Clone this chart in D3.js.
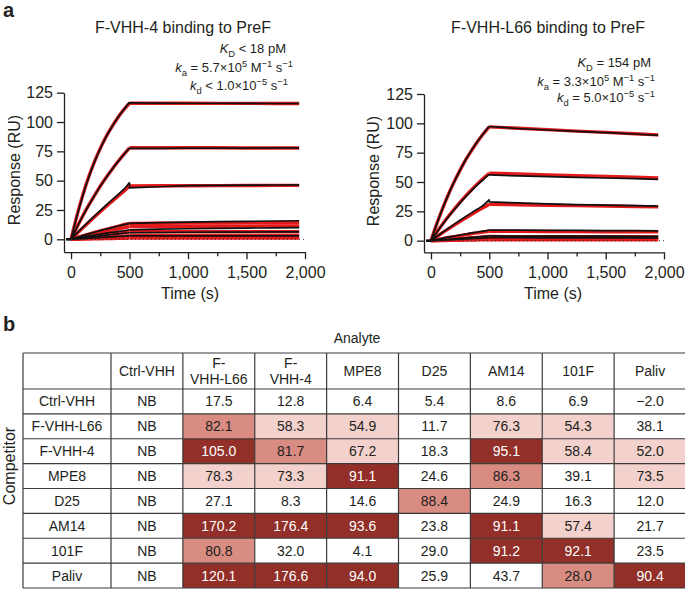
<!DOCTYPE html>
<html><head><meta charset="utf-8">
<script src="https://cdn.jsdelivr.net/npm/d3@7"></script>
<style>
body{margin:0;background:#fff}
svg{display:block}
text{font-family:"Liberation Sans",Arial,Helvetica,sans-serif;fill:#231f20}
</style>
</head><body><svg id="c" width="685" height="590"></svg>
<script>
// ---------------- DATA ----------------
const assocT = [0,50,100,150,200,250,300,350,400,450,500];
const dissocT = [500,750,1000,1250,1500,1750,1950];

// F-VHH-4 panel: red fits
const leftFitAssoc = [
  [0,20,37.5,53,66,77.5,87.5,96,103.7,110.3,116],
  [0,10.2,19.9,28.9,37.2,45.3,52.7,59.6,66.1,72.2,78],
  [0,4.9,9.7,14.4,19,23.5,28,32.3,36.6,40.8,45.5],
  [0,1.5,3,4.4,5.8,7.2,8.5,9.8,11.1,12.4,13.6],
  [0,1.2,2.4,3.5,4.6,5.7,6.8,7.8,8.8,9.8,10.8],
  [0,0.7,1.4,2.1,2.8,3.5,4.1,4.7,5.3,5.9,6.5],
  [0,0.3,0.6,0.9,1.2,1.5,1.8,2.1,2.4,2.7,3],
  [0,0.1,0.2,0.3,0.4,0.5,0.6,0.7,0.8,0.9,1]
];
const leftFitDissoc = [
  [116,116,116,115.9,115.9,115.8,115.8],
  [78,78,78,78,77.9,77.9,77.9],
  [45.5,45.6,45.7,45.8,45.9,46,46],
  [13.6,13.7,13.8,13.9,14,14.1,14.2],
  [10.8,10.9,11,11.1,11.2,11.3,11.3],
  [6.5,6.5,6.5,6.5,6.5,6.5,6.5],
  [3,3,3,3,3,3,3],
  [1,1,1,1,1,1,1]
];
// F-VHH-4 panel: black sensorgrams
const leftDataAssoc = [
  [0,19.5,37,52.5,65.8,77.2,87.3,96,103.8,110.5,116.8],
  [0,10,19.7,28.7,37,45.1,52.6,59.5,66,72.1,77.8],
  [0,5.2,10.2,15.1,19.8,24.5,29.1,33.6,38,42.5,48.5],
  [0,1.6,3.1,4.6,6,7.4,8.7,10,11.3,12.5,13.6],
  [0,1,1.9,2.8,3.6,4.4,5.2,5.9,6.6,7.3,8],
  [0,0.6,1.2,1.8,2.4,3,3.5,4.1,4.6,5.1,5.6],
  [0,0.3,0.6,0.9,1.2,1.5,1.8,2.1,2.4,2.7,3]
];
const leftDataDissoc = [
  [116.3,116.1,116,116,115.9,115.8,115.8],
  [77.6,77.6,77.7,77.8,77.8,77.9,77.9],
  [43.8,44.8,45.8,46,46.2,46.3,46.4],
  [13.6,14.2,14.7,15,15.3,15.6,15.8],
  [8,8.6,9,9.3,9.6,9.8,10],
  [5.6,5.8,6,6.1,6.2,6.3,6.4],
  [3,3,3,3,3,3,3]
];

// F-VHH-L66 panel: red fits
const rightFitAssoc = [
  [0,14.5,27.6,39.6,50.4,60.1,69.2,77.1,84.5,91.1,97],
  [0,7.3,14.3,20.8,26.9,32.8,38.4,43.6,48.6,53.2,57.5],
  [0,3.4,6.8,10.1,13.3,16.4,19.5,22.5,25.4,28.2,31],
  [0,0.9,1.8,2.7,3.5,4.3,5.1,5.9,6.6,7.3,8],
  [0,0.35,0.7,1.05,1.4,1.75,2.1,2.45,2.8,3.15,3.5],
  [0,0.2,0.4,0.6,0.8,1,1.2,1.4,1.6,1.8,2],
  [0,0.08,0.16,0.24,0.32,0.4,0.48,0.56,0.64,0.72,0.8]
];
const rightFitDissoc = [
  [97,95.8,94.6,93.4,92.3,91.1,90.2],
  [57.5,56.8,56.1,55.4,54.7,54,53.5],
  [31,30.6,30.2,29.9,29.5,29.1,28.8],
  [8,7.9,7.8,7.7,7.6,7.5,7.5],
  [3.5,3.45,3.4,3.35,3.3,3.3,3.25],
  [2,2,2,1.9,1.9,1.9,1.9],
  [0.8,0.8,0.8,0.75,0.75,0.75,0.7]
];
// F-VHH-L66 panel: black sensorgrams
const rightDataAssoc = [
  [0,14.3,27.5,39.5,50.4,60.2,69.4,77.4,84.8,91.4,97.5],
  [0,7.1,14,20.4,26.4,32.2,37.7,42.8,47.7,52.2,56.5],
  [0,3.6,7.2,10.7,14.1,17.4,20.7,23.9,27,30.2,35],
  [0,1,2,3,3.9,4.8,5.7,6.6,7.4,8.2,9],
  [0,0.4,0.8,1.2,1.6,2,2.4,2.8,3.2,3.6,4],
  [0,0.25,0.5,0.75,1,1.25,1.5,1.75,2,2.25,2.5]
];
const rightDataDissoc = [
  [97.3,95.6,94.3,93.2,92,90.9,89.8],
  [56,55.2,54.6,54,53.4,52.8,52.3],
  [33,32.2,31.4,30.8,30.3,29.8,29.5],
  [9,8.9,8.8,8.7,8.6,8.5,8.4],
  [4,3.9,3.9,3.8,3.8,3.7,3.7],
  [2.5,2.5,2.4,2.4,2.4,2.3,2.3]
];

const yTicks = [0,25,50,75,100,125];
const xTicks = [0,500,1000,1500,2000];
const xMinorTicks = [250,750,1250,1750];

// Table
const analytes = ["Ctrl-VHH","F-|VHH-L66","F-|VHH-4","MPE8","D25","AM14","101F","Paliv"];
const competitors = ["Ctrl-VHH","F-VHH-L66","F-VHH-4","MPE8","D25","AM14","101F","Paliv"];
const cellValues = [
  [null,17.5,12.8,6.4,5.4,8.6,6.9,-2.0],
  [null,82.1,58.3,54.9,11.7,76.3,54.3,38.1],
  [null,105.0,81.7,67.2,18.3,95.1,58.4,52.0],
  [null,78.3,73.3,91.1,24.6,86.3,39.1,73.5],
  [null,27.1,8.3,14.6,88.4,24.9,16.3,12.0],
  [null,170.2,176.4,93.6,23.8,91.1,57.4,21.7],
  [null,80.8,32.0,4.1,29.0,91.2,92.1,23.5],
  [null,120.1,176.6,94.0,25.9,43.7,28.0,90.4]
];
// 0 = none, 1 = light, 2 = medium, 3 = dark
const cellShade = [
  [0,0,0,0,0,0,0,0],
  [0,2,1,1,0,1,1,0],
  [0,3,2,1,0,3,1,1],
  [0,1,1,3,0,2,0,1],
  [0,0,0,0,2,0,0,0],
  [0,3,3,3,0,3,1,0],
  [0,2,0,0,0,3,3,0],
  [0,3,3,3,0,0,2,3]
];
const shadeColors = ["#ffffff","#f3d1cd","#d98c82","#922f28"];

// ---------------- DRAW ----------------
const svg = d3.select("#c");
const INK = "#231f20";

function richText(g, x, y, parts, size, anchor) {
  const t = g.append("text").attr("x", x).attr("y", y)
    .attr("text-anchor", anchor || "end").style("font-size", size + "px");
  let cur = 0;
  parts.forEach(p => {
    let target = 0, fs = size;
    if (p.sub) { target = size * 0.3; fs = size * 0.72; }
    if (p.sup) { target = -size * 0.42; fs = size * 0.72; }
    const ts = t.append("tspan").text(p.t).style("font-size", fs + "px").attr("dy", target - cur);
    if (p.it) ts.style("font-style", "italic");
    cur = target;
  });
  return t;
}

function panel(cfg) {
  const g = svg.append("g");
  const x = d3.scaleLinear().domain([-60, 2000]).range(cfg.xr);
  const y = d3.scaleLinear().domain(cfg.yd).range(cfg.yr);
  const axisBase = cfg.yr[0];

  const ya = g.append("g").attr("transform", `translate(${cfg.xr[0]},0)`)
    .call(d3.axisLeft(y).tickValues(yTicks).tickSize(7).tickSizeOuter(0).tickPadding(4));
  const xa = g.append("g").attr("transform", `translate(0,${axisBase})`)
    .call(d3.axisBottom(x).tickValues(xTicks).tickSize(7).tickSizeOuter(0).tickPadding(7)
      .tickFormat(d3.format(",")));
  const xm = g.append("g").attr("transform", `translate(0,${axisBase})`)
    .call(d3.axisBottom(x).tickValues(xMinorTicks).tickSize(4).tickSizeOuter(0).tickFormat(""));
  xm.select(".domain").remove();
  [ya, xa, xm].forEach(a => {
    a.selectAll("path,line").attr("stroke", INK).attr("stroke-width", 1.3);
    a.selectAll("text").style("font-size", "16px").attr("fill", INK)
      .style("font-family", '"Liberation Sans",Arial,Helvetica,sans-serif');
  });

  const line = d3.line().x(d => x(d[0])).y(d => y(d[1])).curve(d3.curveMonotoneX);
  const lineL = d3.line().x(d => x(d[0])).y(d => y(d[1]));

  const fits = g.append("g").attr("fill", "none").attr("stroke", "#e31a1c")
    .attr("stroke-width", 3.4).attr("stroke-linejoin", "round");
  cfg.fitA.forEach((vals, i) => {
    fits.append("path").attr("d", line(assocT.map((t, j) => [t, vals[j]])));
    fits.append("path").attr("d", lineL(dissocT.map((t, j) => [t, cfg.fitD[i][j]])));
  });
  const dat = g.append("g").attr("fill", "none").attr("stroke", "#111")
    .attr("stroke-width", 1.7).attr("stroke-linejoin", "round");
  cfg.datA.forEach((vals, i) => {
    dat.append("path").attr("d", lineL([[-40, 0], [0, 0]]));
    dat.append("path").attr("d", line(assocT.map((t, j) => [t, vals[j]])));
    const dd = [[500, vals[vals.length - 1]]].concat(dissocT.map((t, j) => [t, cfg.datD[i][j]]));
    dat.append("path").attr("d", lineL(dd));
  });
  g.append("path").attr("d", lineL([[0, 0], [2000, 0]]))
    .attr("fill", "none").attr("stroke", "#333").attr("stroke-width", 1)
    .attr("stroke-dasharray", "1,3");

  g.append("text").attr("x", cfg.titleX).attr("y", 33).attr("text-anchor", "middle")
    .style("font-size", "16px").text(cfg.title);
  g.append("text").attr("transform", `translate(${cfg.ylabX},${cfg.ylabY}) rotate(-90)`)
    .attr("text-anchor", "middle").style("font-size", "16px").text("Response (RU)");
  g.append("text").attr("x", cfg.xlabX).attr("y", 299).attr("text-anchor", "middle")
    .style("font-size", "16px").text("Time (s)");

  cfg.ann.forEach(a => richText(g, a.x, a.y, a.parts, 13, "end"));
}

panel({
  xr: [64, 305], yd: [-11, 125], yr: [252.2, 92.7],
  fitA: leftFitAssoc, fitD: leftFitDissoc, datA: leftDataAssoc, datD: leftDataDissoc,
  title: "F-VHH-4 binding to PreF", titleX: 183, ylabX: 20, ylabY: 170, xlabX: 190,
  ann: [
    {x: 286, y: 53, parts: [{t: "K", it: true}, {t: "D", sub: true}, {t: " < 18 pM"}]},
    {x: 293, y: 72, parts: [{t: "k", it: true}, {t: "a", sub: true}, {t: " = 5.7×10"}, {t: "5", sup: true},
      {t: " M"}, {t: "−1", sup: true}, {t: " s"}, {t: "−1", sup: true}]},
    {x: 288, y: 90, parts: [{t: "k", it: true}, {t: "d", sub: true}, {t: " < 1.0×10"}, {t: "−5", sup: true},
      {t: " s"}, {t: "−1", sup: true}]}
  ]
});
panel({
  xr: [424, 664], yd: [-10, 125], yr: [252.4, 94],
  fitA: rightFitAssoc, fitD: rightFitDissoc, datA: rightDataAssoc, datD: rightDataDissoc,
  title: "F-VHH-L66 binding to PreF", titleX: 548, ylabX: 379, ylabY: 171, xlabX: 553,
  ann: [
    {x: 651, y: 67, parts: [{t: "K", it: true}, {t: "D", sub: true}, {t: " = 154 pM"}]},
    {x: 655, y: 86, parts: [{t: "k", it: true}, {t: "a", sub: true}, {t: " = 3.3×10"}, {t: "5", sup: true},
      {t: " M"}, {t: "−1", sup: true}, {t: " s"}, {t: "−1", sup: true}]},
    {x: 655, y: 102, parts: [{t: "k", it: true}, {t: "d", sub: true}, {t: " = 5.0×10"}, {t: "−5", sup: true},
      {t: " s"}, {t: "−1", sup: true}]}
  ]
});

svg.append("text").attr("x", 3).attr("y", 17).style("font-size", "20px").style("font-weight", "bold").text("a");
svg.append("text").attr("x", 3).attr("y", 331).style("font-size", "20px").style("font-weight", "bold").text("b");

// ---------------- TABLE ----------------
const tg = svg.append("g");
const tableLeft = 23, firstColRight = 111, tableRight = 686;
const headTop = 353, headBottom = 389, tableBottom = 588;
const colX = d3.scaleBand().domain(analytes).range([firstColRight, tableRight]);
const rowY = d3.scaleBand().domain(competitors).range([headBottom, tableBottom]);
const fmt = d3.format(".1f");
const border = "#3b3b3b";

competitors.forEach((c, r) => {
  analytes.forEach((a, k) => {
    const s = cellShade[r][k];
    tg.append("rect").attr("x", colX(a)).attr("y", rowY(c))
      .attr("width", colX.bandwidth()).attr("height", rowY.bandwidth())
      .attr("fill", shadeColors[s]);
    const v = cellValues[r][k];
    tg.append("text").attr("x", colX(a) + colX.bandwidth() / 2).attr("y", rowY(c) + rowY.bandwidth() / 2)
      .attr("dy", "0.36em").attr("text-anchor", "middle").style("font-size", "14px")
      .style("fill", s === 3 ? "#ffffff" : INK)
      .text(v === null ? "NB" : fmt(v));
  });
  tg.append("text").attr("x", (tableLeft + firstColRight) / 2).attr("y", rowY(c) + rowY.bandwidth() / 2)
    .attr("dy", "0.36em").attr("text-anchor", "middle").style("font-size", "14px").text(c);
});
analytes.forEach(a => {
  const lines = a.split("|");
  const cx = colX(a) + colX.bandwidth() / 2, cy = (headTop + headBottom) / 2;
  lines.forEach((ln, i) => {
    tg.append("text").attr("x", cx).attr("y", cy + (i - (lines.length - 1) / 2) * 16)
      .attr("dy", "0.36em").attr("text-anchor", "middle").style("font-size", "14px").text(ln);
  });
});
const gl = tg.append("g").attr("stroke", border).attr("stroke-width", 1.2).attr("fill", "none");
const hs = [headTop, headBottom].concat(competitors.map(c => rowY(c) + rowY.bandwidth()));
hs.forEach(yv => gl.append("line").attr("x1", tableLeft).attr("x2", tableRight).attr("y1", yv).attr("y2", yv));
const vs = [tableLeft, firstColRight].concat(analytes.map(a => colX(a) + colX.bandwidth()));
vs.forEach(xv => gl.append("line").attr("x1", xv).attr("x2", xv).attr("y1", headTop).attr("y2", tableBottom));

tg.append("text").attr("x", 357).attr("y", 343).attr("text-anchor", "middle").style("font-size", "14px").text("Analyte");
tg.append("text").attr("transform", `translate(15,466) rotate(-90)`).attr("text-anchor", "middle")
  .style("font-size", "16px").text("Competitor");
</script></body></html>
